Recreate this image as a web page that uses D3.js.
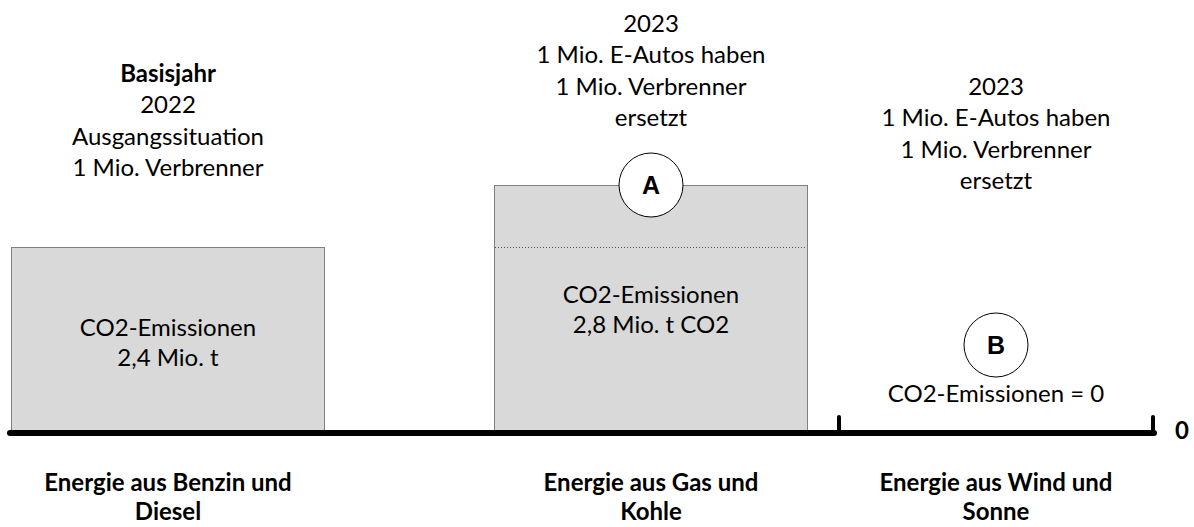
<!DOCTYPE html>
<html>
<head>
<meta charset="utf-8">
<title>CO2-Emissionen Verbrenner vs. E-Autos</title>
<script src="https://cdn.jsdelivr.net/npm/d3@7/dist/d3.min.js"></script>
<style>
  * { margin: 0; padding: 0; }
  body { background: #fff; }
  text { font-family: Lato, "Open Sans", sans-serif; fill: #000; }
</style>
</head>
<body>
<div id="chart"></div>
<script>
// categories (x axis, bold labels under the baseline)
var categories = ["benzin", "gas", "wind"];
var categoryLines = [
  ["Energie aus Benzin und", "Diesel"],
  ["Energie aus Gas und", "Kohle"],
  ["Energie aus Wind und", "Sonne"]
];
// CO2 in Mio. t as labelled, and the bar heights as they are drawn (schematic)
var emissions = [2.4, 2.8, 0];
var drawnHeight = [2.4, 3.2, 0];
var baseYearLevel = 2.4;   // dotted line inside the second bar
var barLines = [
  ["CO2-Emissionen", "2,4 Mio. t"],
  ["CO2-Emissionen", "2,8 Mio. t CO2"],
  ["CO2-Emissionen = 0"]
];
var headerLines = [
  ["Basisjahr", "2022", "Ausgangssituation", "1 Mio. Verbrenner"],
  ["2023", "1 Mio. E-Autos haben", "1 Mio. Verbrenner", "ersetzt"],
  ["2023", "1 Mio. E-Autos haben", "1 Mio. Verbrenner", "ersetzt"]
];
var markers = ["", "A", "B"];
var zeroLabel = "0";

var W = 1194, H = 527;
var svg = d3.select("#chart").append("svg")
    .attr("width", W).attr("height", H);

var bandW = 314;
var x = d3.scaleOrdinal().domain(categories).range([11, 494, 839]);
var y = d3.scaleLinear().domain([0, baseYearLevel]).range([433, 247]);
var cx = function(c){ return x(c) + bandW / 2; };

var rows = categories.map(function(c, i){
  return {cat: c, value: emissions[i], h: drawnHeight[i], bar: barLines[i],
          head: headerLines[i], label: categoryLines[i], mark: markers[i]};
});

// bars
svg.selectAll("rect.bar").data(rows.filter(function(d){ return d.h > 0; }))
  .enter().append("rect").attr("class", "bar")
  .attr("x", function(d){ return x(d.cat) + 0.5; })
  .attr("y", function(d){ return Math.round(y(d.h)) + 0.5; })
  .attr("width", bandW - 1)
  .attr("height", function(d){ return y(0) - Math.round(y(d.h)); })
  .attr("fill", "#d9d9d9")
  .attr("stroke", "#7f7f7f")
  .attr("stroke-width", 1);

// dotted base-year level in the taller bar
svg.selectAll("line.lvl").data(rows.filter(function(d){ return d.h > baseYearLevel; }))
  .enter().append("line").attr("class", "lvl")
  .attr("x1", function(d){ return x(d.cat) + 1; })
  .attr("x2", function(d){ return x(d.cat) + bandW - 1; })
  .attr("y1", Math.round(y(baseYearLevel)) + 0.5)
  .attr("y2", Math.round(y(baseYearLevel)) + 0.5)
  .attr("stroke", "#555").attr("stroke-width", 1)
  .attr("stroke-dasharray", "1,2");

// baseline + ticks
var last = categories[categories.length - 1];
svg.append("line")
  .attr("x1", 10).attr("x2", x(last) + bandW + 1)
  .attr("y1", y(0)).attr("y2", y(0))
  .attr("stroke", "#000").attr("stroke-width", 6).attr("stroke-linecap", "round");
svg.selectAll("line.tick").data([x(last), x(last) + bandW])
  .enter().append("line").attr("class", "tick")
  .attr("x1", function(d){ return d; }).attr("x2", function(d){ return d; })
  .attr("y1", y(0) - 16).attr("y2", y(0))
  .attr("stroke", "#000").attr("stroke-width", 4).attr("stroke-linecap", "round");
svg.append("text")
  .attr("x", x(last) + bandW + 29).attr("y", y(0) + 6)
  .attr("text-anchor", "middle").attr("font-weight", "bold")
  .attr("font-size", 24).text(zeroLabel);

var fs = 24, lh = 31.3;

// text inside / above bars
var barText = svg.selectAll("g.bt").data(rows).enter().append("g").attr("class", "bt");
barText.each(function(d){
  var g = d3.select(this);
  var top = d.h > 0 ? [336, 303][categories.indexOf(d.cat)] : 402;
  d.bar.forEach(function(t, k){
    g.append("text").attr("x", cx(d.cat)).attr("y", top + k * 30)
      .attr("text-anchor", "middle").attr("font-size", fs).text(t);
  });
});

// headers
var headTop = [82, 32, 95];
rows.forEach(function(d, i){
  d.head.forEach(function(t, k){
    svg.append("text").attr("x", cx(d.cat)).attr("y", headTop[i] + k * lh)
      .attr("text-anchor", "middle").attr("font-size", fs)
      .attr("font-weight", (i === 0 && k === 0) ? "bold" : null)
      .text(t);
  });
});

// markers A / B
var markY = [0, y(drawnHeight[1]), 345];
rows.forEach(function(d, i){
  if (!d.mark) return;
  svg.append("circle").attr("cx", cx(d.cat)).attr("cy", markY[i]).attr("r", 32)
    .attr("fill", "#fff").attr("stroke", "#000").attr("stroke-width", 1);
  svg.append("text").attr("x", cx(d.cat)).attr("y", markY[i] + 9)
    .attr("text-anchor", "middle").attr("font-weight", "bold")
    .style("font-family", "'Liberation Sans', Arial, sans-serif")
    .attr("font-size", 25).text(d.mark);
});

// category labels
rows.forEach(function(d){
  d.label.forEach(function(t, k){
    svg.append("text").attr("x", cx(d.cat)).attr("y", 491 + k * 29)
      .attr("text-anchor", "middle").attr("font-weight", "bold")
      .attr("font-size", fs).text(t);
  });
});
</script>
</body>
</html>
